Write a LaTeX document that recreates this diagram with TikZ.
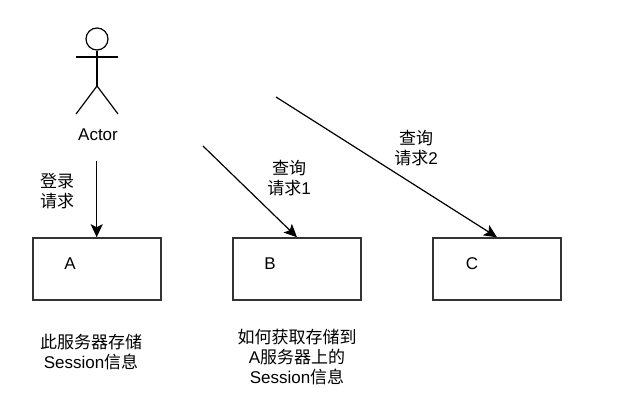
\documentclass[tikz,border=0pt]{standalone}
\usepackage{fontspec}
\setmainfont{Liberation Sans}
\newfontfamily\cjk{Noto Sans CJK SC}
\usetikzlibrary{arrows.meta}
\tikzset{
  serverbox/.style={draw=black!80, line width=1.5pt, minimum width=128pt, minimum height=62pt, inner sep=0pt},
  label text/.style={align=center, inner sep=0pt, font=\fontsize{17}{20}\selectfont},
  request/.style={->, line width=1.2pt},
}
\begin{document}
\begin{tikzpicture}[x=1pt, y=-1pt, >={Stealth[length=13pt,width=12pt,inset=3pt]}]
    \useasboundingbox (0,0) rectangle (626,417);
    % 人形
    \node[draw, circle, line width=1.2pt, minimum size=22pt, inner sep=0pt] (head) at (97,39) {};
    \coordinate (hip) at (97,86);
    \coordinate (armL) at (76,57);
    \coordinate (armR) at (118,57);
    \coordinate (footL) at (76,114);
    \coordinate (footR) at (118,114);
    \draw[line width=1.2pt] (head) -- (hip);
    \draw[line width=1.2pt] (armL) -- (armR);
    \draw[line width=1.2pt] (footL) -- (hip) -- (footR);
    \node[label text] (actor) at (98,135) {Actor};
    % 服务器
    \node[serverbox] (boxA) at (97,269) {};
    \node[serverbox] (boxB) at (297,269) {};
    \node[serverbox] (boxC) at (497,269) {};
    \node[label text] (nameA) at (70,264) {A};
    \node[label text] (nameB) at (270,264) {B};
    \node[label text] (nameC) at (472,264) {C};
    % 请求
    \coordinate (startA) at (96.7,161);
    \coordinate (startB) at (203,146);
    \coordinate (startC) at (276,97);
    \draw[request] (startA) -- (startA |- boxA.north);
    \draw[request] (startB) -- (boxB.north);
    \draw[request] (startC) -- (boxC.north);
    \node[label text] (loginText) at (57,191) {{\cjk 登录}\\{\cjk 请求}};
    \node[label text] (queryOne) at (289,178) {{\cjk 查询}\\{\cjk 请求}1};
    \node[label text] (queryTwo) at (416,148) {{\cjk 查询}\\{\cjk 请求}2};
    % 说明
    \node[label text] (noteA) at (91,352) {{\cjk 此服务器存储}\\Session{\cjk 信息}};
    \node[label text] (noteB) at (297,357) {{\cjk 如何获取存储到}\\A{\cjk 服务器上的}\\Session{\cjk 信息}};
\end{tikzpicture}
\end{document}
